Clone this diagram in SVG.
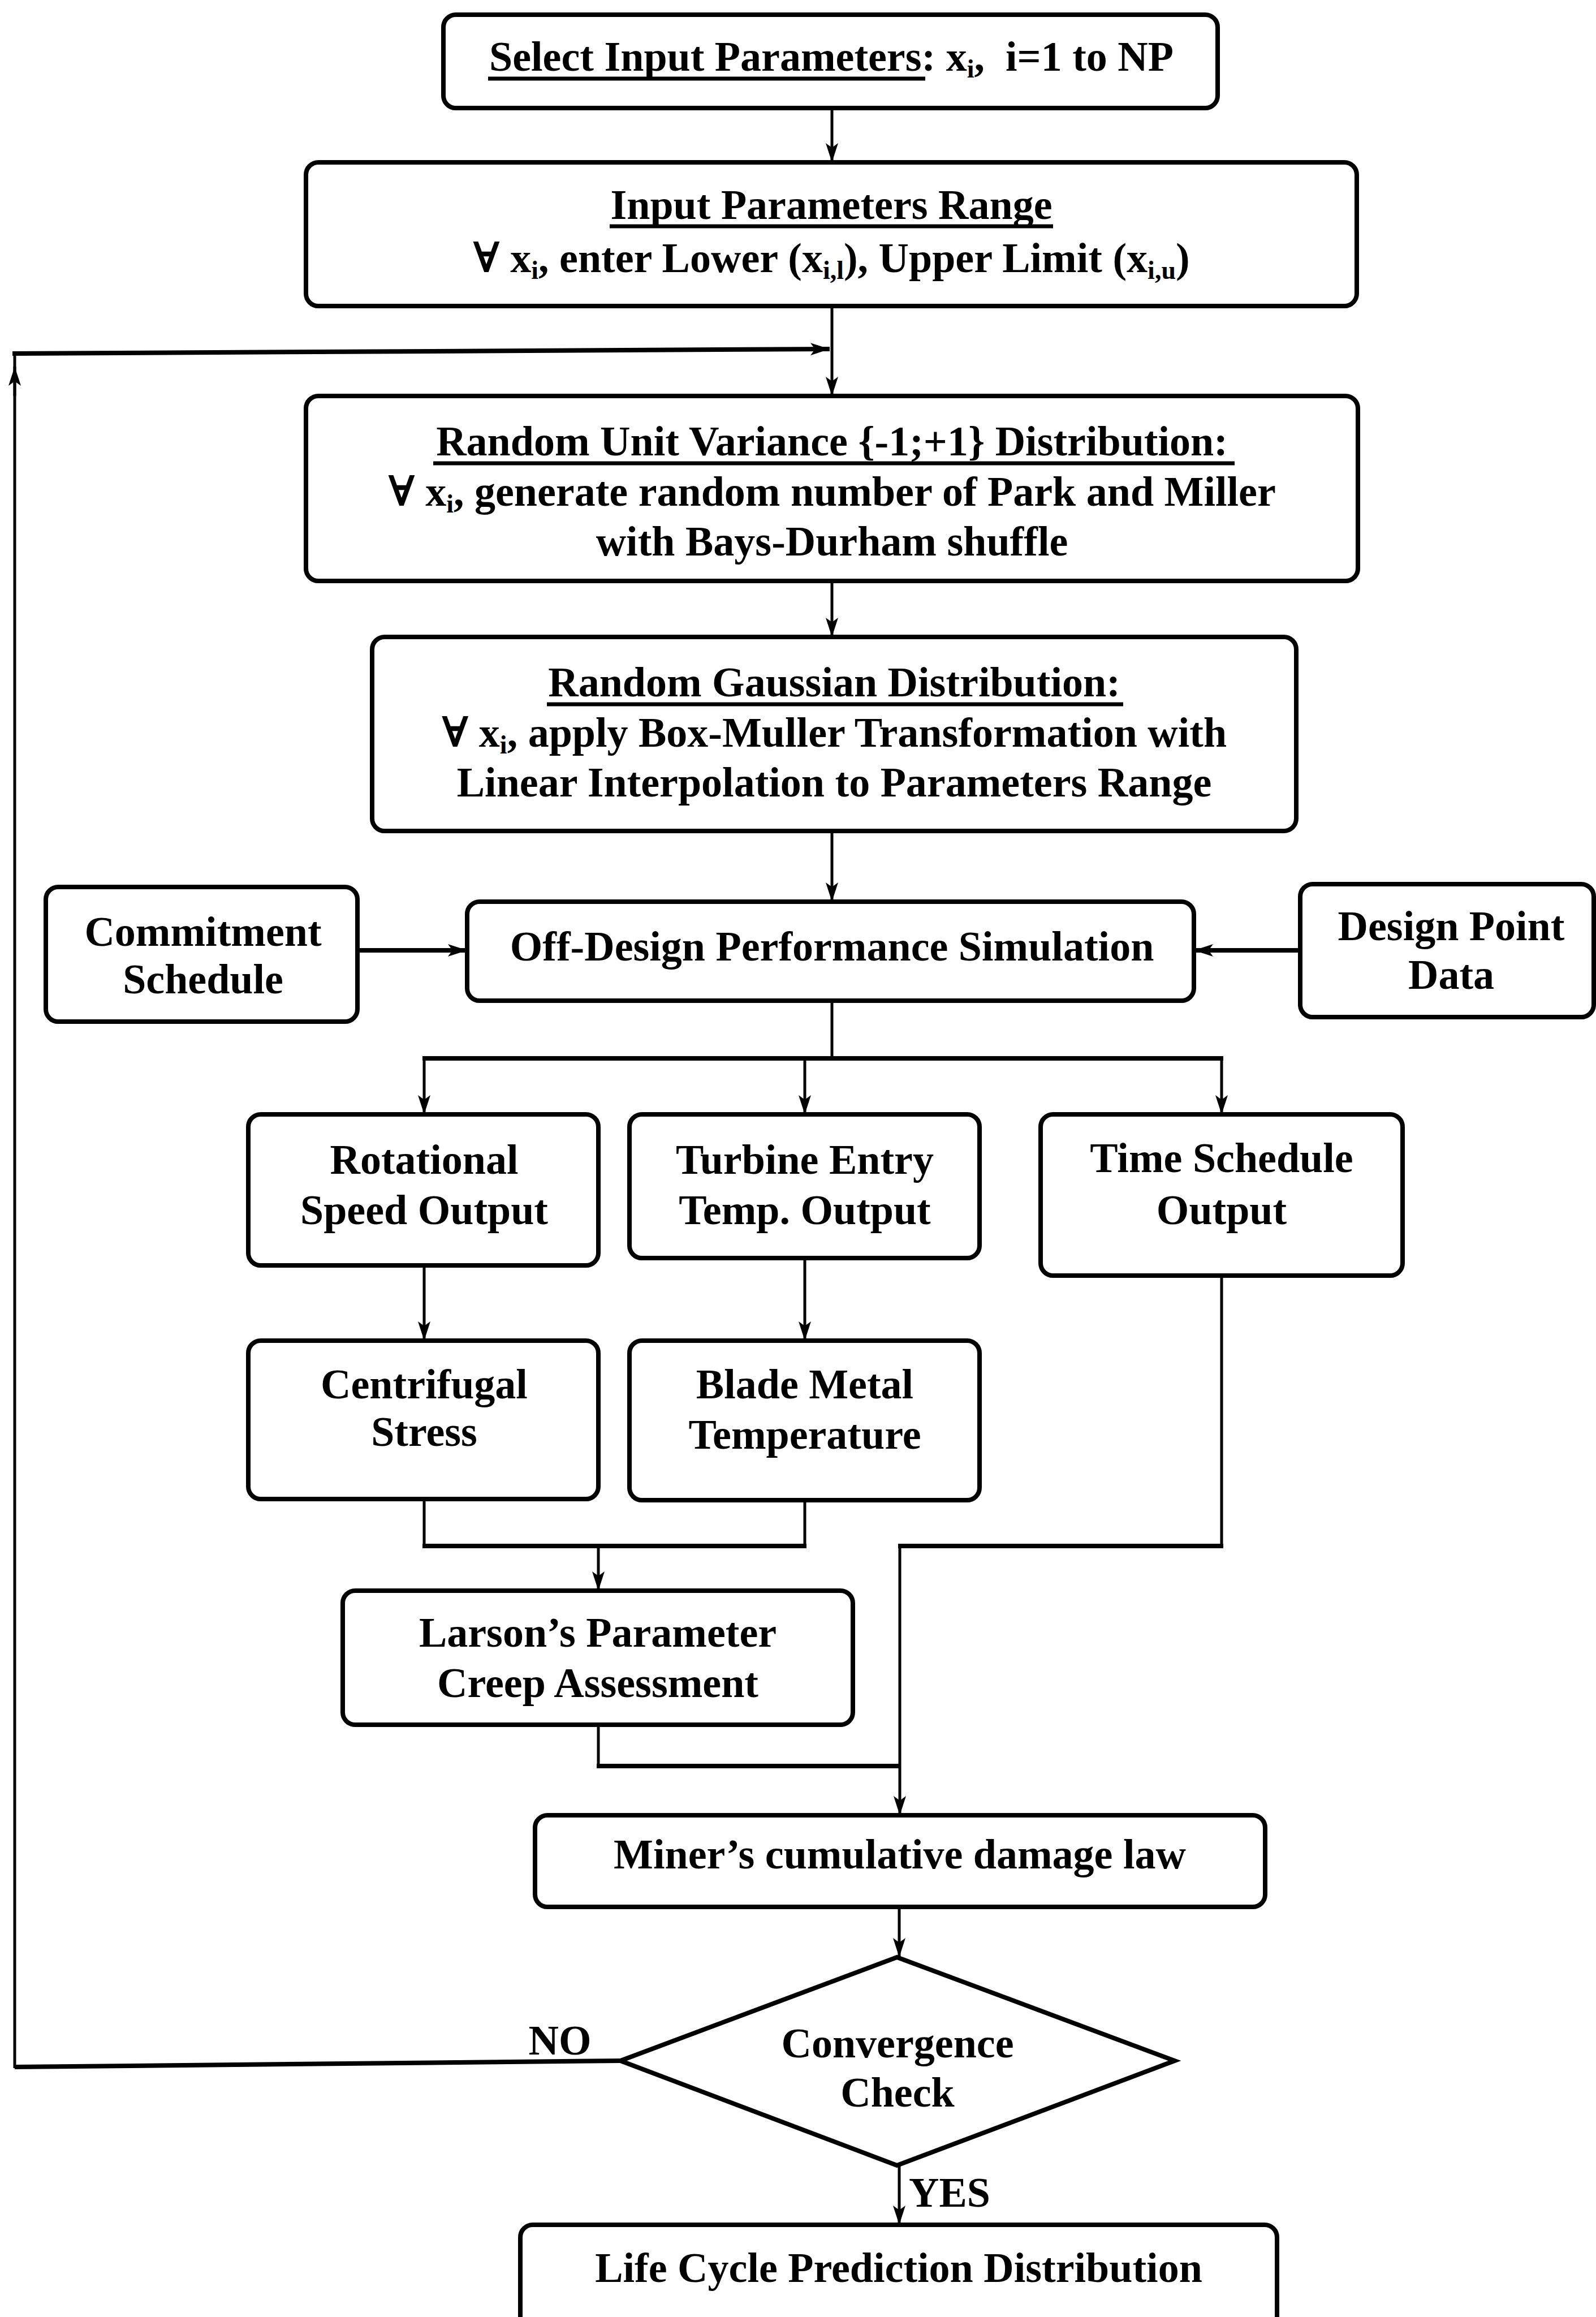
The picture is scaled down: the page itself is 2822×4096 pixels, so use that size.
<svg xmlns="http://www.w3.org/2000/svg" width="2822" height="4096" viewBox="0 0 2822 4096">
  <style>
    .box { fill: #fff; stroke: #000; stroke-width: 8; }
    .t { font-family: "Liberation Serif", "DejaVu Serif", serif; font-weight: bold; font-size: 74px; fill: #000; text-anchor: middle; }
    .sub { font-size: 46px; }
    .ul { stroke: #000; stroke-width: 7; }
    .ln { fill: none; stroke: #000; stroke-width: 5; }
    .thick { fill: none; stroke: #000; stroke-width: 8; }
  </style>
  <defs>
    <marker id="arr" viewBox="0 0 34 24" refX="34" refY="12" markerWidth="34" markerHeight="24" markerUnits="userSpaceOnUse" orient="auto">
      <path d="M0,1 L34,12 L0,23 L8,12 z" fill="#000"/>
    </marker>
  </defs>
  <rect width="2822" height="4096" fill="#fff"/>

  <!-- connectors -->
  <g id="connectors">
    <line class="ln" x1="1471" y1="191" x2="1471" y2="287" marker-end="url(#arr)"/>
    <line class="ln" x1="1471" y1="541" x2="1471" y2="700" marker-end="url(#arr)"/>
    <!-- NO loop back to the random sampling stage -->
    <polyline class="thick" points="1097,3643 26,3654"/>
    <line class="ln" x1="26" y1="3656" x2="26" y2="622"/>
    <polyline class="thick" points="22,625 1467,617" marker-end="url(#arr)"/>
    <line class="ln" x1="26" y1="700" x2="26" y2="648" marker-end="url(#arr)"/>
    <line class="ln" x1="1471" y1="1027" x2="1471" y2="1126" marker-end="url(#arr)"/>
    <line class="ln" x1="1471" y1="1469" x2="1471" y2="1594" marker-end="url(#arr)"/>
    <line class="thick" x1="632" y1="1680" x2="826" y2="1680" marker-end="url(#arr)"/>
    <line class="thick" x1="2299" y1="1680" x2="2111" y2="1680" marker-end="url(#arr)"/>
    <line class="ln" x1="1471" y1="1769" x2="1471" y2="1871"/>
    <line class="thick" x1="747" y1="1871" x2="2163" y2="1871"/>
    <line class="ln" x1="750" y1="1871" x2="750" y2="1970" marker-end="url(#arr)"/>
    <line class="ln" x1="1423" y1="1871" x2="1423" y2="1970" marker-end="url(#arr)"/>
    <line class="ln" x1="2160" y1="1871" x2="2160" y2="1970" marker-end="url(#arr)"/>
    <line class="ln" x1="750" y1="2237" x2="750" y2="2370" marker-end="url(#arr)"/>
    <line class="ln" x1="1423" y1="2224" x2="1423" y2="2370" marker-end="url(#arr)"/>
    <line class="ln" x1="750" y1="2650" x2="750" y2="2733"/>
    <line class="ln" x1="1423" y1="2652" x2="1423" y2="2733"/>
    <line class="thick" x1="747" y1="2733" x2="1426" y2="2733"/>
    <line class="ln" x1="1058" y1="2733" x2="1058" y2="2812" marker-end="url(#arr)"/>
    <line class="ln" x1="2160" y1="2255" x2="2160" y2="2733"/>
    <line class="thick" x1="2163" y1="2733" x2="1588" y2="2733"/>
    <line class="ln" x1="1591" y1="2730" x2="1591" y2="3209" marker-end="url(#arr)"/>
    <line class="ln" x1="1058" y1="3049" x2="1058" y2="3122"/>
    <line class="thick" x1="1055" y1="3122" x2="1591" y2="3122"/>
    <line class="ln" x1="1590" y1="3371" x2="1590" y2="3460" marker-end="url(#arr)"/>
    <line class="ln" x1="1590" y1="3828" x2="1590" y2="3933" marker-end="url(#arr)"/>
    <text class="t" x="990" y="3632">NO</text>
    <text class="t" x="1607" y="3901" style="text-anchor:start">YES</text>
  </g>

  <g id="select-input">
    <rect class="box" x="784" y="26" width="1369" height="165" rx="22"/>
    <text class="t" x="1470" y="125" xml:space="preserve">Select Input Parameters: x<tspan class="sub" dy="12">i</tspan><tspan dy="-12">,  i=1 to NP</tspan></text>
    <line class="ul" x1="863" y1="139" x2="1636" y2="139"/>
  </g>

  <g id="input-range">
    <rect class="box" x="541" y="287" width="1858" height="254" rx="22"/>
    <text class="t" x="1470" y="387">Input Parameters Range</text>
    <line class="ul" x1="1078" y1="400" x2="1862" y2="400"/>
    <text class="t" x="1470" y="481">∀ x<tspan class="sub" dy="12">i</tspan><tspan dy="-12">, enter Lower (x</tspan><tspan class="sub" dy="12">i,l</tspan><tspan dy="-12">), Upper Limit (x</tspan><tspan class="sub" dy="12">i,u</tspan><tspan dy="-12">)</tspan></text>
  </g>

  <g id="unit-variance">
    <rect class="box" x="541" y="700" width="1860" height="327" rx="22"/>
    <text class="t" x="1471" y="805">Random Unit Variance {-1;+1} Distribution:</text>
    <line class="ul" x1="766" y1="819" x2="2183" y2="819"/>
    <text class="t" x="1471" y="894">∀ x<tspan class="sub" dy="12">i</tspan><tspan dy="-12">, generate random number of Park and Miller</tspan></text>
    <text class="t" x="1471" y="982">with Bays-Durham shuffle</text>
  </g>

  <g id="gaussian">
    <rect class="box" x="658" y="1126" width="1634" height="343" rx="22"/>
    <text class="t" x="1475" y="1231">Random Gaussian Distribution:</text>
    <line class="ul" x1="967" y1="1245" x2="1986" y2="1245"/>
    <text class="t" x="1475" y="1320">∀ x<tspan class="sub" dy="12">i</tspan><tspan dy="-12">, apply Box-Muller Transformation with</tspan></text>
    <text class="t" x="1475" y="1408">Linear Interpolation to Parameters Range</text>
  </g>

  <g id="commitment">
    <rect class="box" x="81" y="1568" width="551" height="238" rx="22"/>
    <text class="t" x="359" y="1672">Commitment</text>
    <text class="t" x="359" y="1756">Schedule</text>
  </g>

  <g id="off-design">
    <rect class="box" x="826" y="1594" width="1285" height="175" rx="22"/>
    <text class="t" x="1471" y="1698">Off-Design Performance Simulation</text>
  </g>

  <g id="design-point">
    <rect class="box" x="2299" y="1563" width="519" height="235" rx="22"/>
    <text class="t" x="2566" y="1662">Design Point</text>
    <text class="t" x="2566" y="1748">Data</text>
  </g>

  <g id="rotational">
    <rect class="box" x="439" y="1970" width="619" height="267" rx="22"/>
    <text class="t" x="750" y="2075">Rotational</text>
    <text class="t" x="750" y="2164">Speed Output</text>
  </g>

  <g id="tet">
    <rect class="box" x="1113" y="1970" width="619" height="254" rx="22"/>
    <text class="t" x="1423" y="2075">Turbine Entry</text>
    <text class="t" x="1423" y="2164">Temp. Output</text>
  </g>

  <g id="time-schedule">
    <rect class="box" x="1840" y="1970" width="640" height="285" rx="22"/>
    <text class="t" x="2160" y="2072">Time Schedule</text>
    <text class="t" x="2160" y="2164">Output</text>
  </g>

  <g id="centrifugal">
    <rect class="box" x="439" y="2370" width="619" height="280" rx="22"/>
    <text class="t" x="750" y="2472">Centrifugal</text>
    <text class="t" x="750" y="2556">Stress</text>
  </g>

  <g id="blade-metal">
    <rect class="box" x="1113" y="2370" width="619" height="282" rx="22"/>
    <text class="t" x="1423" y="2472">Blade Metal</text>
    <text class="t" x="1423" y="2561">Temperature</text>
  </g>

  <g id="larson">
    <rect class="box" x="606" y="2812" width="902" height="237" rx="22"/>
    <text class="t" x="1057" y="2911">Larson’s Parameter</text>
    <text class="t" x="1057" y="3000">Creep Assessment</text>
  </g>

  <g id="miner">
    <rect class="box" x="946" y="3209" width="1291" height="162" rx="22"/>
    <text class="t" x="1591" y="3303">Miner’s cumulative damage law</text>
  </g>

  <g id="convergence">
    <polygon class="box" points="1586,3460 2077,3643 1586,3828 1097,3643"/>
    <text class="t" x="1587" y="3637">Convergence</text>
    <text class="t" x="1587" y="3724">Check</text>
  </g>

  <g id="life-cycle">
    <rect class="box" x="920" y="3933" width="1338" height="190" rx="22"/>
    <text class="t" x="1589" y="4034">Life Cycle Prediction Distribution</text>
  </g>
</svg>
